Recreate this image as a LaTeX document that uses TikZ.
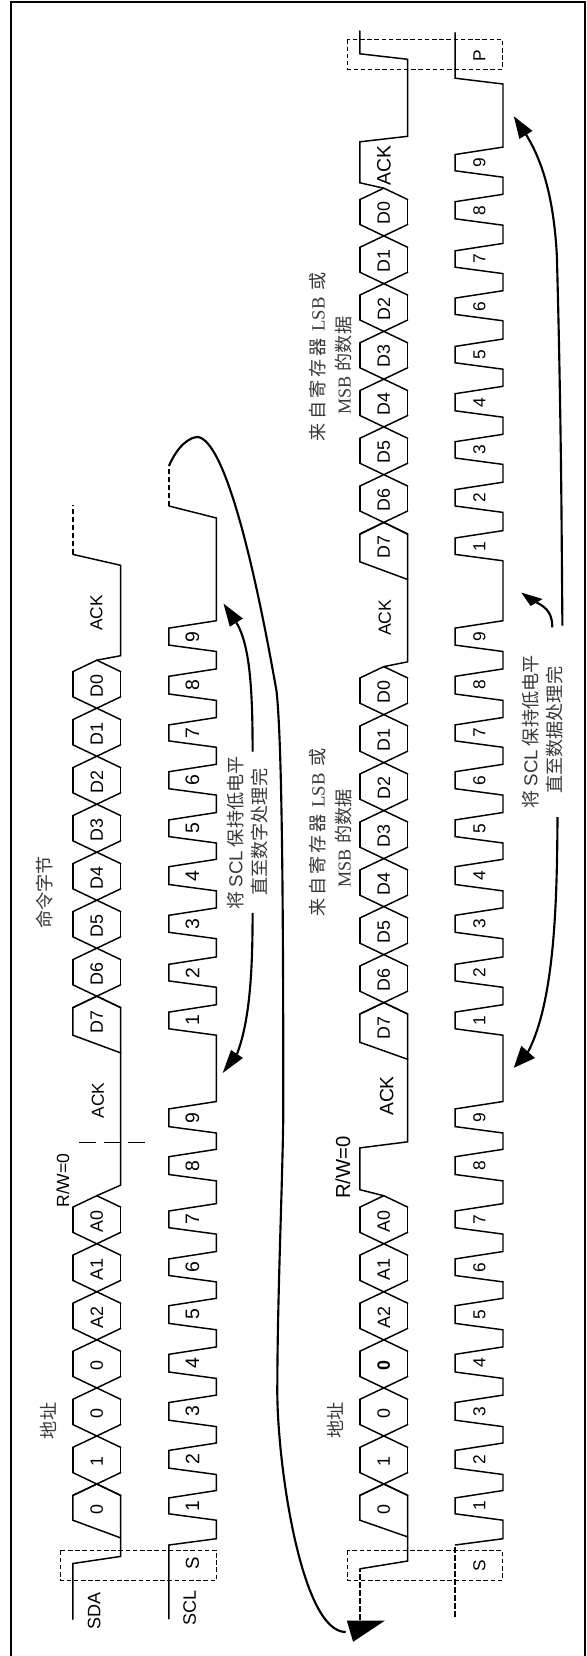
\documentclass[tikz,border=0pt]{standalone}
\usepackage{fontspec}
\setmainfont{Liberation Sans}
\newfontfamily\cjk{Noto Sans CJK SC}
\newfontfamily\tms{Liberation Serif}
\newcommand{\sz}[1]{\fontsize{#1}{#1}\selectfont}
\tikzset{
  wave/.style={line width=1.1pt,line cap=round,line join=miter,black},
  dashwave/.style={line width=1.1pt,black,dash pattern=on 4pt off 2pt},
  markline/.style={line width=1.1pt,black,dash pattern=on 12.7pt off 5.6pt},
  zonebox/.style={line width=.7pt,black,dash pattern=on 3.4pt off 2pt},
  frameline/.style={line width=1.3pt,black},
  flow/.style={line width=1.6pt,black},
  flowhead/.style={fill=black,draw=none},
  lab/.style={rotate=90,inner sep=0pt,black},
  bitlab/.style={lab,font=\sz{13.4}},
  numlab/.style={lab,font=\sz{14.6}},
  numlabb/.style={lab,font=\sz{13}},
  notelab/.style={lab,font=\sz{13.6},text=black!78},
}
% name, xL, xR, c0, step, n, labels, label offset
\newcommand{\hexbyte}[8]{%
  \foreach \t [count=\i from 0, evaluate=\i as \c using #4-#5*\i] in {#7}{%
    \ifnum\i<#6
      \draw[wave] (#2,\c+11.4)--(#3,\c-11.4) (#3,\c+11.4)--(#2,\c-11.4);
      \draw[wave] (#2,\c-11.4)--(#2,\c+11.4-#5) (#3,\c-11.4)--(#3,\c+11.4-#5);
    \else
      \draw[wave] (#2,\c+11.4)--({(#2+#3)/2},\c)--(#3,\c+11.4);
    \fi
    \node[bitlab] (#1\i) at ({(#2+#3)/2},\c+#8) {\t};
  }%
}
\newcommand{\pulselabels}[4]{% style, prefix, x, list macro
  \foreach \lo/\hh [count=\n] in #4 {\node[#1] (#2\n) at (#3,{(\lo+\hh)/2}) {\n};}%
}
\def\bA{1513.8/1497.9,1468.1/1450.4,1420.2/1402.5,1372/1354.3,1323.4/1305.7,1275.5/1258.9,1227.7/1211,1174.5/1156.7,1126.6/1108.9}
\def\bB{1028.8/1012.1,980.9/964.3,932.3/915.3,884.5/866.7,836.6/819.9,788.7/771.7,740.9/724.9,694/676.3,645.1/628.1}
\def\bC{554.4/538,506/489.6,458/441.7,410.8/393.7,362.8/346.4,314.4/298.1,267.2/250.8,218.8/201.7,170.8/154.5}
\newcommand{\pulses}[3]{% xL xR list macro (continues a path)
  \foreach \lo/\hh in #3 { -- (#2,\lo+6.4) -- (#1,\lo) -- (#1,\hh) -- (#2,\hh-7.4) }%
}
\newcommand{\regline}{\cjk 来\,自\,寄\,存\,器\hspace{5pt}{\tms\sz{14}LSB}\hspace{5pt}或}
\newcommand{\msbline}{{\tms\sz{13.6}MSB}\hspace{4pt}{\cjk 的数据}}
\begin{document}
\begin{tikzpicture}[x=0.75pt,y=-0.75pt]
\useasboundingbox (0,0) rectangle (586,1656);
\fill[white] (0,0) rectangle (586,1656);
\draw[frameline] (11,1656)--(11,1.7)--(585.3,1.7)--(585.3,1656);

% ---------- group 1 SDA
\draw[wave] (72.9,1619.3)--(72.9,1563.5)--(120.7,1556.4)--(120.7,1495.4)--(96.8,1484);
\draw[wave] (120.7,1537.9)--(72.9,1520.2)--(72.9,1495.4)--(96.8,1484);
\hexbyte{ha}{72.9}{120.7}{1484}{48.05}{6}{0,1,0,0,A2,A1,A0}{26}
\draw[wave] (96.8,1195.7)--(120.7,1185.1)--(120.7,1052.9)--(72.9,1035.2)--(72.9,1007.6)--(96.8,996.2);
\draw[wave] (120.7,1052.9)--(120.7,1007.6)--(96.8,996.2);
\hexbyte{hb}{72.9}{120.7}{996.2}{48}{7}{D7,D6,D5,D4,D3,D2,D1,D0}{25.7}
\draw[wave] (96.8,660.2)--(120.7,655.7)--(120.7,565.3)--(72.9,554.4);
\draw[dashwave] (72.9,554.4)--(72.9,505.3);

% ---------- group 1 SCL
\draw[wave] (168.9,1618.8)--(168.9,1545)--(216.4,1538.7) \pulses{168.9}{216.4}{\bA} \pulses{168.9}{216.4}{\bB} -- (216.4,518)--(168.9,506);
\draw[dashwave] (168.9,506)--(168.9,467);
\pulselabels{numlab}{na}{192.5}{\bA}
\pulselabels{numlab}{nb}{192.5}{\bB}

% ---------- group 2 SDA
\draw[dashwave] (359.9,1619.5)--(359.9,1568.8);
\draw[wave] (359.9,1568.8)--(407.7,1561)--(407.7,1495.3)--(383.8,1484);
\draw[wave] (407.7,1536.9)--(359.9,1520.2)--(359.9,1495.3)--(383.8,1484);
\hexbyte{hc}{359.9}{407.7}{1484}{48.05}{6}{0,1,0,{\bfseries 0},A2,A1,A0}{26}
\draw[wave] (383.8,1195.7)--(359.9,1189.7)--(359.9,1147.9)--(407.7,1141.8)--(407.7,1059.3)--(359.9,1042.3)--(359.9,1014)--(383.8,1002.6);
\draw[wave] (407.7,1059.3)--(407.7,1014)--(383.8,1002.6);
\hexbyte{hd}{359.9}{407.7}{1002.6}{48}{7}{D7,D6,D5,D4,D3,D2,D1,D0}{25.7}
\draw[wave] (383.8,666.6)--(407.7,661.8)--(407.7,579.5)--(359.9,561.8)--(359.9,534.4)--(383.8,522.4);
\draw[wave] (407.7,579.5)--(407.7,534.4)--(383.8,522.4);
\hexbyte{he}{359.9}{407.7}{522.4}{47.75}{7}{D7,D6,D5,D4,D3,D2,D1,D0}{25}
\draw[wave] (383.8,188.2)--(359.9,182.8)--(359.9,141.8)--(407.7,136.3)--(407.7,59.3)--(359.9,53.8)--(359.9,30.9);

% ---------- group 2 SCL
\draw[dashwave] (455.2,1616.7)--(455.2,1545);
\draw[wave] (455.2,1545)--(503,1538.7) \pulses{455.2}{503}{\bA} \pulses{455.2}{503}{\bB} \pulses{455.2}{503}{\bC} -- (503,84)--(455.2,78.2)--(455.2,32.7);
\pulselabels{numlabb}{nc}{479.4}{\bA}
\pulselabels{numlabb}{nd}{479.4}{\bB}
\pulselabels{numlabb}{ne}{479.4}{\bC}

% ---------- dashed zones
\draw[zonebox] (60.4,1550.4) rectangle (216.7,1580.2);
\draw[zonebox] (347.5,1550.4) rectangle (502.4,1580.2);
\draw[zonebox] (347.5,39.3) rectangle (502.4,69.3);
\draw[markline] (79.2,1142.6)--(145.7,1142.6);

% ---------- curved arrows
\coordinate (bigS) at (168.9,466);
\coordinate (bigE) at (345.7,1632);
\draw[flow] (bigS) .. controls (178,445) and (190,437) .. (198,437)
  .. controls (222,441) and (250,540) .. (276.5,691)
  .. controls (282,740) and (283.3,900) .. (283.3,1116)
  .. controls (282,1200) and (277.3,1300) .. (277.3,1394)
  .. controls (278,1470) and (302,1632) .. (bigE);
\fill[flowhead] (346.8,1620.6)--(384.9,1620.6)--(353.1,1641.8)--cycle;

\coordinate (a1) at (252.6,751.5);
\coordinate (a1e) at (236.4,622.6);
\draw[flow] (a1) .. controls (252.6,690) and (250,645) .. (a1e);
\fill[flowhead] (223.5,603.6)--(229.8,626.7)--(242.9,618.5)--cycle;
\coordinate (a2) at (252.6,912.8);
\coordinate (a2e) at (237,1054);
\draw[flow] (a2) .. controls (252.6,970) and (250,1020) .. (a2e);
\fill[flowhead] (222.7,1073)--(231,1050)--(242.9,1058)--cycle;

\coordinate (a3) at (552.3,627.4);
\coordinate (a3e) at (536.6,602.5);
\draw[flow] (a3) .. controls (552.3,615) and (548,608) .. (a3e);
\fill[flowhead] (521.3,592.6)--(530.6,606)--(542.6,599)--cycle;
\coordinate (a4) at (562.4,625.6);
\coordinate (a4e) at (526,134.5);
\draw[flow] (a4) -- (561.7,538) .. controls (561,440) and (559,330) .. (556.8,254.5)
  .. controls (554,205) and (545,165) .. (a4e);
\fill[flowhead] (513.8,116.3)--(519.4,138.9)--(532.5,130.9)--cycle;
\coordinate (a5) at (557.5,817);
\coordinate (a5e) at (528,1052);
\draw[flow] (a5) .. controls (557,900) and (555,1000) .. (a5e);
\fill[flowhead] (513.8,1067.8)--(521.3,1045.8)--(535,1058)--cycle;

% ---------- labels
\node[lab,font=\sz{13.5}] (sda) at (94.2,1610.6) {SDA};
\node[lab,font=\sz{13.5}] (scl) at (189.8,1608) {SCL};
\node[lab,font=\sz{14}] (s1) at (192.4,1562.8) {S};
\node[lab,font=\sz{13}] (s2) at (479.4,1565.2) {S};
\node[lab,font=\sz{13}] (p) at (479.4,55.3) {P};
\node[lab,font=\sz{13.2}] (rw1) at (62.8,1180.5) {R/W=0};
\node[lab,font=\sz{15.2}] (rw2) at (343,1167.7) {R/W=0};
\node[lab,font=\sz{13}] (ack1) at (97.9,1100.4) {ACK};
\node[lab,font=\sz{13}] (ack2) at (96.4,613) {ACK};
\node[lab,font=\sz{14.5}] (ack3) at (386.8,1096) {ACK};
\node[lab,font=\sz{13.2}] (ack4) at (384.9,617.8) {ACK};
\node[lab,font=\sz{14.6}] (ack5) at (384,165.8) {ACK};
\node[notelab] (addr1) at (48.6,1420.9) {\cjk 地址};
\node[notelab] (addr2) at (335.2,1420) {\cjk 地址};
\node[notelab] (cmd) at (44.1,892.4) {\cjk 命令字节};
\node[notelab] (h1a) at (235.4,833) {\cjk 将\hspace{3pt}{\sz{14}\rmfamily SCL}\hspace{3pt}保持低电平};
\node[notelab] (h1b) at (259.7,832.2) {\cjk 直至数字处理完};
\node[notelab] (h2a) at (530.6,732) {\cjk 将\hspace{3pt}{\sz{14}\rmfamily SCL}\hspace{3pt}保持低电平};
\node[notelab] (h2b) at (554.2,730.2) {\cjk 直至数据处理完};
\node[notelab] (r1a) at (317.6,832.7) {\regline};
\node[notelab] (r1b) at (343.8,838.4) {\msbline};
\node[notelab] (r2a) at (317.6,356.8) {\regline};
\node[notelab] (r2b) at (343.8,365.8) {\msbline};
\end{tikzpicture}
\end{document}
